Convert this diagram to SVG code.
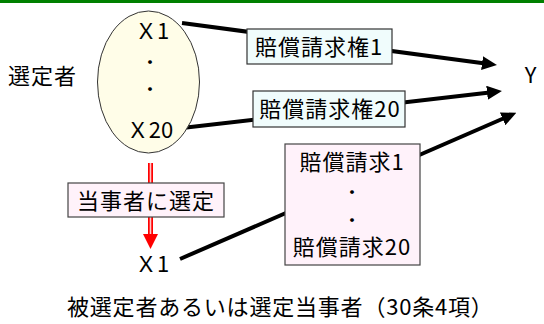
<svg xmlns="http://www.w3.org/2000/svg" width="544" height="324" viewBox="0 0 544 324">
<style>
.t{font-family:"Noto Sans CJK JP","Noto Sans",sans-serif;font-size:22px;fill:#000;letter-spacing:1px}
.m{text-anchor:middle}
.dot{font-family:"Noto Sans CJK JP","Noto Sans",sans-serif;font-size:15px;font-weight:bold;fill:#000;text-anchor:middle}
.conn{stroke:#000;stroke-width:4;fill:none}
.bluebox{fill:#f0fcfc;stroke:#333;stroke-width:1.2}
.pinkbox{fill:#fff2fa;stroke:#444;stroke-width:1.2}
</style>
<defs>
<marker id="ah" markerUnits="userSpaceOnUse" markerWidth="15" markerHeight="14" refX="7" refY="7" orient="auto">
<path d="M0,0 L15,7 L0,14 z" fill="#000"/>
</marker>
</defs>
<rect width="544" height="324" fill="#fff"/>
<rect x="0" y="0" width="544" height="3" fill="#008000"/>
<g id="connectors">
<line class="conn" x1="182" y1="23" x2="489" y2="64" marker-end="url(#ah)"/>
<line class="conn" x1="182" y1="128" x2="494" y2="92" marker-end="url(#ah)"/>
<line class="conn" x1="180" y1="259" x2="509" y2="116" marker-end="url(#ah)"/>
<g id="red-arrow">
<line x1="150.5" y1="163" x2="150.5" y2="235" stroke="#ff0000" stroke-width="5"/>
<line x1="150.5" y1="163" x2="150.5" y2="235" stroke="#ffc8c8" stroke-width="1.6"/>
<polygon points="143,234 158,234 150.5,249" fill="#ff0000"/>
</g>
</g>
<g id="senteisha-label">
<text class="t" x="8" y="84">選定者</text>
</g>
<g id="ellipse-node">
<ellipse cx="148.5" cy="82" rx="51" ry="71" fill="#fffde8" stroke="#333" stroke-width="1"/>
<text class="t m" x="152" y="39" style="letter-spacing:0">Ｘ1</text>
<text class="dot" x="150" y="68">・</text>
<text class="dot" x="150" y="95">・</text>
<text class="t m" x="150" y="138" style="letter-spacing:0">Ｘ20</text>
</g>
<g id="claim1">
<rect class="bluebox" x="247" y="29" width="145" height="35"/>
<text class="t m" x="319" y="55">賠償請求権1</text>
</g>
<g id="claim20">
<rect class="bluebox" x="253" y="91" width="152" height="36"/>
<text class="t m" x="330" y="117">賠償請求権20</text>
</g>
<g id="claims-box">
<rect class="pinkbox" x="285" y="144" width="135" height="121"/>
<text class="t m" x="352" y="170">賠償請求1</text>
<text class="dot" x="352" y="198">・</text>
<text class="dot" x="352" y="226">・</text>
<text class="t m" x="352" y="255">賠償請求20</text>
</g>
<g id="select-box">
<rect class="pinkbox" x="68" y="183" width="156" height="34"/>
<text class="t m" x="146" y="209">当事者に選定</text>
</g>
<g id="x1-bottom">
<text class="t m" x="152" y="272" style="letter-spacing:0">Ｘ1</text>
</g>
<g id="y-node">
<text class="t m" x="531" y="83">Y</text>
</g>
<g id="caption">
<text class="t" x="67" y="315" style="letter-spacing:0.8px">被選定者あるいは選定当事者（30条4項）</text>
</g>
</svg>
